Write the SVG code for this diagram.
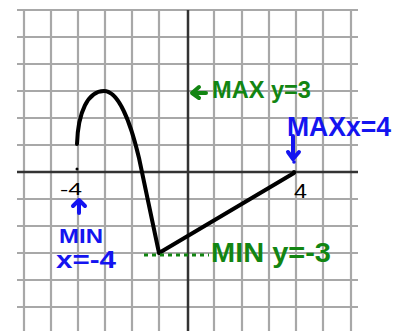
<svg xmlns="http://www.w3.org/2000/svg" width="399" height="331" viewBox="0 0 399 331">
<defs>
<style>
.grid{stroke:#a8a8a8;stroke-width:2.2;fill:none}
.axis{stroke:#333;stroke-width:2.5;fill:none}
.curve{stroke:#000;stroke-width:4;fill:none;stroke-linecap:round;stroke-linejoin:round}
.blue{fill:#1414f0;font-family:"Liberation Sans",Arial,sans-serif;font-weight:bold}
.green{fill:#128512;font-family:"Liberation Sans",Arial,sans-serif;font-weight:bold}
.bl{stroke:#1414f0;stroke-width:4;fill:none;stroke-linecap:round;stroke-linejoin:round}
.gl{stroke:#128512;stroke-width:4;fill:none;stroke-linecap:round;stroke-linejoin:round}
.tick{fill:#000;font-family:"Liberation Sans",Arial,sans-serif}
</style>
</defs>
<rect width="399" height="331" fill="#fff"/>
<g id="grid">
<path class="grid" d="M24,10V331M51,10V331M78,10V331M105,10V331M132,10V331M159,10V331M214,10V331M242,10V331M269,10V331M296,10V331M323,10V331M351,10V331"/>
<path class="grid" d="M17,10H358M17,37H358M17,64H358M17,91H358M17,118H358M17,145H358M17,199H358M17,226H358M17,253H358M17,280H358M17,307H358"/>
<path class="axis" d="M17,172H358M188,10V331"/>
</g>
<g id="graph">
<path class="curve" d="M77,144 C78,112 88,91 104,91 C118,91 130,120 139,158 L159,253 L294,173"/>
<circle cx="77" cy="169" r="1.5" fill="#000"/>
<circle cx="294" cy="172" r="2" fill="#000"/>
<text class="tick" x="60" y="195" font-size="16" textLength="22" lengthAdjust="spacingAndGlyphs">-4</text>
<text class="tick" x="294" y="198" font-size="21" textLength="13" lengthAdjust="spacingAndGlyphs">4</text>
</g>
<g id="min-x">
<path class="bl" d="M79,213V201M73,206L79,200L85,206"/>
<text class="blue" x="59" y="243" font-size="21" textLength="44" lengthAdjust="spacingAndGlyphs">MIN</text>
<text class="blue" x="56" y="268" font-size="23" textLength="60" lengthAdjust="spacingAndGlyphs">x=-4</text>
</g>
<g id="max-x">
<path class="bl" d="M293,136V158M288,152L293,159L299,152"/>
<circle cx="294" cy="162" r="1.8" fill="#1414f0"/>
<text class="blue" x="287" y="136" font-size="28" textLength="104" lengthAdjust="spacingAndGlyphs">MAXx=4</text>
</g>
<g id="max-y">
<path class="gl" d="M206,93H193M199,87L192,93L199,98"/>
<text class="green" x="212" y="98" font-size="24" textLength="99" lengthAdjust="spacingAndGlyphs">MAX y=3</text>
</g>
<g id="min-y">
<path d="M144,255H209" stroke="#128512" stroke-width="3" stroke-dasharray="4,4" fill="none"/>
<text class="green" x="211" y="262" font-size="28" textLength="120" lengthAdjust="spacingAndGlyphs">MIN y=-3</text>
</g>
</svg>
